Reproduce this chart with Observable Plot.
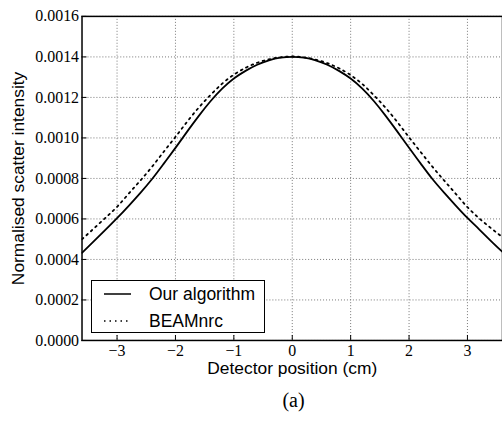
<!DOCTYPE html>
<html><head><meta charset="utf-8">
<script src="https://cdn.jsdelivr.net/npm/d3@7"></script>
<script src="https://cdn.jsdelivr.net/npm/@observablehq/plot@0.6"></script>
<style>
html,body{margin:0;padding:0;background:#fff;overflow:hidden;width:502px;height:421px}
#wrap{position:relative;width:502px;height:421px;overflow:hidden}
#chart svg{display:block;overflow:hidden}
#legend{position:absolute;left:91px;top:280px;width:174px;height:53px;border:1.5px solid #000;background:#fff;font-family:"Liberation Sans",Arial,sans-serif;font-size:17.5px;color:#000;box-sizing:border-box}
#legend .row{position:absolute;left:0;height:20px;line-height:20px;white-space:nowrap}
#legend .row svg{position:absolute;left:12px;top:0}
#legend .row span{position:absolute;left:57px;top:0}
#caption{position:absolute;left:0;top:380px;width:505px;padding-left:82px;box-sizing:border-box;text-align:center;font-family:"Liberation Serif",serif;font-size:20px;line-height:41px;color:#000}
</style></head>
<body><div id="wrap"><div id="chart"></div>
<div id="legend">
 <div class="row" style="top:3px"><svg width="28" height="20"><line x1="0" y1="10" x2="27" y2="10" stroke="#000" stroke-width="1.5"/></svg><span>Our algorithm</span></div>
 <div class="row" style="top:30px"><svg width="28" height="20"><line x1="0" y1="10" x2="27" y2="10" stroke="#000" stroke-width="1.5" stroke-dasharray="1.5,4"/></svg><span>BEAMnrc</span></div>
</div>
<div id="caption">(a)</div>
</div>
<script>
const positions = [-3.6,-3.4,-3.2,-3.0,-2.8,-2.6,-2.4,-2.2,-2.0,-1.8,-1.6,-1.4,-1.2,-1.0,-0.8,-0.6,-0.4,-0.2,0,0.2,0.4,0.6,0.8,1.0,1.2,1.4,1.6,1.8,2.0,2.2,2.4,2.6,2.8,3.0,3.2,3.4,3.6];
const ourAlgorithm = [0.000433,0.000489,0.000546,0.000604,0.000665,0.000729,0.000797,0.000873,0.000951,0.001031,0.001109,0.001181,0.001243,0.001293,0.001331,0.001361,0.001383,0.001396,0.001400,0.001396,0.001383,0.001361,0.001331,0.001293,0.001243,0.001181,0.001109,0.001031,0.000951,0.000873,0.000797,0.000730,0.000666,0.000605,0.000549,0.000492,0.000437];
const beamnrc = [0.000500,0.000552,0.000605,0.000660,0.000725,0.000790,0.000858,0.000932,0.001005,0.001080,0.001150,0.001212,0.001268,0.001312,0.001346,0.001371,0.001388,0.001398,0.001402,0.001398,0.001387,0.001369,0.001344,0.001310,0.001266,0.001210,0.001148,0.001078,0.001003,0.000930,0.000858,0.000790,0.000724,0.000658,0.000603,0.000555,0.000510];
const xTicks = [-3,-2,-1,0,1,2,3];
const yTicks = [0,0.0002,0.0004,0.0006,0.0008,0.0010,0.0012,0.0014,0.0016];
const seriesNames = ["Our algorithm","BEAMnrc"];

const rowsA = positions.map((x,i)=>({x, y: ourAlgorithm[i]}));
const rowsB = positions.map((x,i)=>({x, y: beamnrc[i]}));
const fmtX = d => d < 0 ? "\u2212" + Math.abs(d) : String(d);
const fmtY = d => d.toFixed(4);

const plot = Plot.plot({
  width: 505, height: 380,
  marginLeft: 82, marginRight: 0, marginTop: 16, marginBottom: 38,
  x: {domain: [-3.6, 3.6]},
  y: {domain: [0, 0.0016]},
  style: {fontFamily: "'Liberation Serif', serif", fontSize: "16px", color: "#000", background: "#fff"},
  marks: [
    Plot.gridX(xTicks, {stroke: "#777", strokeOpacity: 1, strokeDasharray: "1,2"}),
    Plot.gridY(yTicks, {stroke: "#777", strokeOpacity: 1, strokeDasharray: "1,2"}),
    Plot.axisX(xTicks, {tickSize: -5, tickPadding: 9, tickFormat: fmtX, label: null, fontSize: 16}),
    Plot.axisY(yTicks, {tickSize: -5, tickPadding: 8, tickFormat: fmtY, label: null, fontSize: 16}),
    Plot.line(rowsB, {x: "x", y: "y", curve: "natural", stroke: "#000", strokeWidth: 1.8, strokeDasharray: "1.8,4.2", clip: true}),
    Plot.line(rowsA, {x: "x", y: "y", curve: "natural", stroke: "#000", strokeWidth: 1.8, clip: true}),
    Plot.frame({stroke: "#000", strokeWidth: 1.5}),
    Plot.text(["Normalised scatter intensity"], {text: d => d, frameAnchor: "left", textAnchor: "middle", lineAnchor: "middle", dx: -64, rotate: -90, fontFamily: "'Liberation Sans', Arial, sans-serif", fontSize: 17.5, fill: "#000"}),
    Plot.text(["Detector position (cm)"], {text: d => d, frameAnchor: "bottom", textAnchor: "middle", lineAnchor: "middle", dy: 28, fontFamily: "'Liberation Sans', Arial, sans-serif", fontSize: 17.5, fill: "#000"})
  ]
});
document.getElementById("chart").appendChild(plot);
</script>
</body></html>
